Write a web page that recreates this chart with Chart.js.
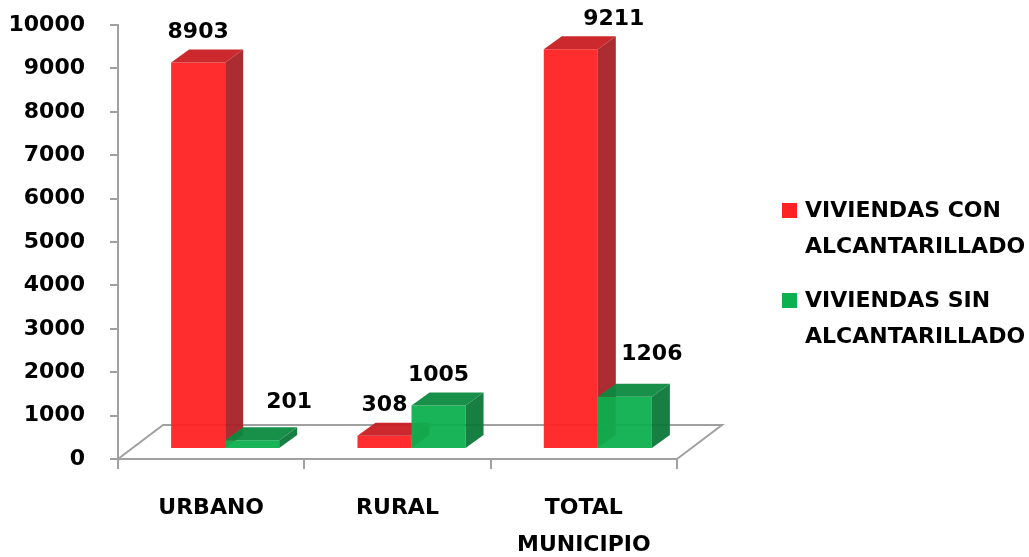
<!DOCTYPE html>
<html lang="es">
<head>
    <meta charset="UTF-8">
    <title>Viviendas con y sin alcantarillado</title>
    <script src="https://cdn.jsdelivr.net/npm/chart.js"></script>
    <style>
        body {
            margin: 0;
            padding: 0;
            background-color: white;
        }
        .chart-box {
            width: 1029px;
            height: 557px;
            position: relative;
        }
    </style>
</head>
<body>
    <div class="chart-box">
        <canvas id="myChart"></canvas>
    </div>

    <script>
        // datos del grafico
        const categorias = ['URBANO', 'RURAL', ['TOTAL', 'MUNICIPIO']];
        const conAlcantarillado = [8903, 308, 9211];
        const sinAlcantarillado = [201, 1005, 1206];
        const series = ['VIVIENDAS CON ALCANTARILLADO', 'VIVIENDAS SIN ALCANTARILLADO'];
        const yMin = 0, yMax = 10000, yStep = 1000;

        // colores: frente, lado, arriba
        const rojo = ['#ff2222', '#a82226', '#c81e22'];
        const verde = ['#0db04f', '#0c7838', '#0c8a40'];
        const colores = [rojo, verde];

        const fuente = { family: 'DejaVu Sans', weight: 'bold', size: 22 };
        const gris = '#a0a0a0';

        // desplazamientos 3D
        const piso = { dx: 45, dy: -34 };
        const barra = { sx: 14, sy: -10, dx: 18, dy: -13 };
        // ajuste manual de las etiquetas (como en el original)
        const ajusteEtiquetas = [
            [[0, 0], [0, 0], [43, 0]],
            [[37, -8], [0, 0], [27, -12]]
        ];

        function poly(ctx, pts, color) {
            ctx.beginPath();
            ctx.moveTo(pts[0][0], pts[0][1]);
            for (let i = 1; i < pts.length; i++) ctx.lineTo(pts[i][0], pts[i][1]);
            ctx.closePath();
            ctx.fillStyle = color;
            ctx.fill();
        }

        const barras3d = {
            id: 'barras3d',
            beforeDatasetsDraw(chart) {
                // piso
                const a = chart.chartArea;
                const ctx = chart.ctx;
                ctx.save();
                ctx.strokeStyle = gris;
                ctx.lineWidth = 2;
                ctx.beginPath();
                ctx.moveTo(a.left, a.bottom);
                ctx.lineTo(a.left + piso.dx, a.bottom + piso.dy);
                ctx.lineTo(a.right + piso.dx, a.bottom + piso.dy);
                ctx.lineTo(a.right, a.bottom);
                ctx.stroke();
                ctx.restore();
            },
            beforeDatasetDraw() {
                return false;
            },
            afterDatasetsDraw(chart) {
                const ctx = chart.ctx;
                ctx.save();
                ctx.globalAlpha = 0.95;
                const n = chart.data.labels.length;
                for (let i = 0; i < n; i++) {
                    for (let d = 0; d < chart.data.datasets.length; d++) {
                        const el = chart.getDatasetMeta(d).data[i];
                        const p = el.getProps(['x', 'y', 'base', 'width'], true);
                        const l = p.x - p.width / 2 + barra.sx;
                        const r = p.x + p.width / 2 + barra.sx;
                        const t = p.y + barra.sy;
                        const b = p.base + barra.sy;
                        const c = colores[d];
                        poly(ctx, [[l, t], [r, t], [r, b], [l, b]], c[0]);
                        poly(ctx, [[r, t], [r + barra.dx, t + barra.dy], [r + barra.dx, b + barra.dy], [r, b]], c[1]);
                        poly(ctx, [[l, t], [l + barra.dx, t + barra.dy], [r + barra.dx, t + barra.dy], [r, t]], c[2]);
                    }
                }
                ctx.restore();

                // etiquetas de valores
                ctx.save();
                ctx.font = 'bold 22px "DejaVu Sans"';
                ctx.fillStyle = '#000';
                ctx.textAlign = 'center';
                ctx.textBaseline = 'middle';
                for (let d = 0; d < chart.data.datasets.length; d++) {
                    const meta = chart.getDatasetMeta(d);
                    meta.data.forEach((el, i) => {
                        const p = el.getProps(['x', 'y'], true);
                        const aj = ajusteEtiquetas[d][i];
                        const x = p.x + barra.sx + aj[0];
                        const y = p.y + barra.sy + barra.dy - 17 + aj[1];
                        ctx.fillText(chart.data.datasets[d].data[i], x, y);
                    });
                }
                ctx.restore();
            },
            afterDraw(chart) {
                // leyenda
                const ctx = chart.ctx;
                ctx.save();
                ctx.font = 'bold 22px "DejaVu Sans"';
                ctx.textBaseline = 'middle';
                ctx.textAlign = 'left';
                chart.data.datasets.forEach((ds, d) => {
                    const y0 = 211 + d * 90;
                    ctx.fillStyle = colores[d][0];
                    ctx.fillRect(782, y0 - 8, 15, 15);
                    ctx.fillStyle = '#000';
                    const palabras = ds.label.split(' ');
                    ctx.fillText(palabras.slice(0, 2).join(' '), 805, y0);
                    ctx.fillText(palabras.slice(2).join(' '), 805, y0 + 36);
                });
                ctx.restore();
            }
        };

        const ctx = document.getElementById('myChart').getContext('2d');
        const myChart = new Chart(ctx, {
            type: 'bar',
            data: {
                labels: categorias,
                datasets: [{
                    label: series[0],
                    data: conAlcantarillado,
                    backgroundColor: rojo[0]
                }, {
                    label: series[1],
                    data: sinAlcantarillado,
                    backgroundColor: verde[0]
                }]
            },
            options: {
                responsive: true,
                maintainAspectRatio: false,
                animation: false,
                layout: {
                    padding: { top: 25, right: 352, left: 0, bottom: 0 }
                },
                datasets: {
                    bar: {
                        barPercentage: 1,
                        categoryPercentage: 0.58
                    }
                },
                plugins: {
                    legend: { display: false },
                    tooltip: { enabled: false }
                },
                scales: {
                    x: {
                        offset: true,
                        grid: {
                            offset: true,
                            drawOnChartArea: false,
                            tickLength: 10,
                            color: gris,
                            lineWidth: 2
                        },
                        border: { color: gris, width: 2 },
                        ticks: {
                            color: '#000',
                            font: { family: 'DejaVu Sans', weight: 'bold', size: 22, lineHeight: 1.72 },
                            padding: 20,
                            maxRotation: 0,
                            autoSkip: false
                        },
                        afterFit(scale) {
                            scale.height = 98;
                        }
                    },
                    y: {
                        min: yMin,
                        max: yMax,
                        grid: {
                            drawOnChartArea: false,
                            tickLength: 8,
                            color: gris,
                            lineWidth: 2
                        },
                        border: { color: gris, width: 2 },
                        ticks: {
                            stepSize: yStep,
                            color: '#000',
                            font: fuente,
                            padding: 25,
                            callback: v => String(v)
                        },
                        afterFit(scale) {
                            scale.width = 118;
                            scale.paddingTop = 0;
                            scale.paddingBottom = 0;
                        }
                    }
                }
            },
            plugins: [barras3d]
        });
    </script>
</body>
</html>
